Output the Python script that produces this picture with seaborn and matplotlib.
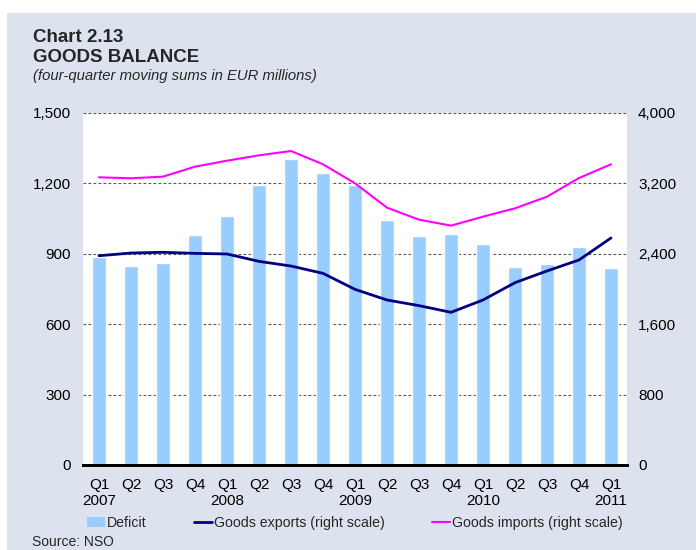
import numpy as np
import pandas as pd
import matplotlib
matplotlib.use("Agg")
import matplotlib.pyplot as plt
import seaborn as sns
from matplotlib.patches import Rectangle, Patch
from matplotlib.lines import Line2D

# DATA (four-quarter moving sums, EUR millions)
quarters = ["Q1\n2007", "Q2", "Q3", "Q4", "Q1\n2008", "Q2", "Q3", "Q4",
            "Q1\n2009", "Q2", "Q3", "Q4", "Q1\n2010", "Q2", "Q3", "Q4", "Q1\n2011"]
deficit = [887, 849, 859, 981, 1061, 1194, 1304, 1244, 1192,
           1045, 977, 983, 940, 845, 855, 927, 841]
exports = [2378, 2409, 2417, 2405, 2398, 2314, 2261, 2178, 1996,
           1875, 1811, 1735, 1875, 2072, 2205, 2330, 2580]
imports = [3269, 3258, 3277, 3390, 3458, 3519, 3568, 3417, 3201,
           2924, 2788, 2720, 2822, 2917, 3049, 3261, 3417]

df = pd.DataFrame({"q": range(len(quarters)), "deficit": deficit,
                   "exports": exports, "imports": imports})

sns.set_style("white")
plt.rcParams["font.family"] = ["Liberation Sans", "DejaVu Sans"]

bg = "#dce3ef"
fig = plt.figure(figsize=(6.96, 5.5), dpi=100, facecolor="white")
fig.patches.append(Rectangle((7 / 696, 0), 1, 1 - 13 / 550, transform=fig.transFigure,
                             facecolor=bg, edgecolor="none", zorder=-10))

ax = fig.add_axes([83 / 696, 1 - 465 / 550, 544 / 696, 352 / 550])
ax.set_facecolor("white")

sns.barplot(data=df, x="q", y="deficit", color="#99ccff", width=0.42,
            saturation=1, ax=ax, zorder=2)
ax.set_ylim(0, 1500)
ax.set_yticks([0, 300, 600, 900, 1200, 1500])
ax.set_yticklabels(["0", "300", "600", "900", "1,200", "1,500"])
ax.set_xlim(-0.5, len(quarters) - 0.5)
ax.set_xticks(range(len(quarters)))
ax.set_xticklabels(quarters)
ax.set_xlabel("")
ax.set_ylabel("")
for y in [300, 600, 900, 1200, 1500]:
    ax.axhline(y, color="#555555", lw=0.8, ls=(0, (2.5, 2)), zorder=1)

ax2 = ax.twinx()
sns.lineplot(data=df, x="q", y="exports", color="#000080", lw=2, ax=ax2, zorder=3)
sns.lineplot(data=df, x="q", y="imports", color="#ff00ff", lw=1.5, ax=ax2, zorder=3)
ax2.set_ylim(0, 4000)
ax2.set_yticks([0, 800, 1600, 2400, 3200, 4000])
ax2.set_yticklabels(["0", "800", "1,600", "2,400", "3,200", "4,000"])
ax2.set_xlabel("")
ax2.set_ylabel("")

for a in (ax, ax2):
    for s in ["top", "left", "right"]:
        a.spines[s].set_visible(False)
    a.spines["bottom"].set_color("black")
    a.spines["bottom"].set_linewidth(2)
    a.tick_params(length=0, labelsize=11, colors="black")
ax.tick_params(axis="y", pad=9)
ax2.tick_params(axis="y", pad=8)
ax.tick_params(axis="x", pad=9)

fig.text(33 / 696, 1 - 38 / 550, "Chart 2.13", fontsize=13.5, fontweight="bold", va="center")
fig.text(33 / 696, 1 - 57 / 550, "GOODS BALANCE", fontsize=13.5, fontweight="bold", va="center")
fig.text(33 / 696, 1 - 76 / 550, "(four-quarter moving sums in EUR millions)",
         fontsize=10.7, style="italic", va="center")
fig.text(32 / 696, 1 / 550, "Source: NSO", fontsize=10, va="bottom")

handles = [Patch(facecolor="#99ccff", edgecolor="none"),
           Line2D([], [], color="#000080", lw=2),
           Line2D([], [], color="#ff00ff", lw=1.5)]
labels = ["Deficit", "Goods exports (right scale)", "Goods imports (right scale)"]
fig.legend(handles, labels, loc="center left", bbox_to_anchor=(81 / 696, 1 - 523 / 550),
           ncol=3, frameon=False, fontsize=10.2, handlelength=1.3, handletextpad=0.15,
           columnspacing=3.3, borderaxespad=0)

fig.savefig("out.png", dpi=100, facecolor=fig.get_facecolor())
